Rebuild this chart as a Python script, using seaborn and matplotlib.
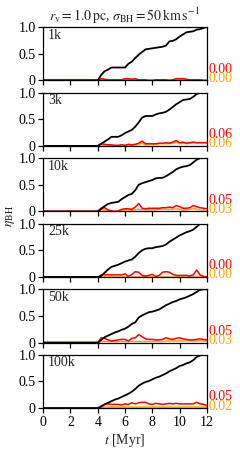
import numpy as np
import pandas as pd
import matplotlib
matplotlib.use("Agg")
import matplotlib.pyplot as plt
import seaborn as sns

# time grid: t=0 plus 4.0 ... 12.0 Myr in 0.25 steps
t_myr = [0.0] + [4.0 + 0.25 * i for i in range(33)]

labels = ["1k", "3k", "10k", "25k", "50k", "100k"]

black_1k = [0.00, 0.10, 0.17, 0.20, 0.24, 0.24, 0.24, 0.24, 0.24, 0.31, 0.35,
            0.42, 0.48, 0.53, 0.58, 0.59, 0.60, 0.61, 0.62, 0.63, 0.65, 0.73,
            0.74, 0.77, 0.82, 0.86, 0.90, 0.91, 0.92, 0.95, 0.96, 0.98, 1.00]
red_1k = [0.00, 0.03, 0.02, 0.01, 0.01, 0.01, 0.01, 0.01, 0.03, 0.03, 0.02,
          0.03, 0.01, 0.01, 0.01, 0.00, 0.00, 0.01, 0.01, 0.01, 0.01, 0.00,
          0.01, 0.03, 0.03, 0.03, 0.02, 0.01, 0.01, 0.01, 0.01, 0.00, 0.00]
orange_1k = [0.00, 0.02, 0.01, 0.00, 0.00, 0.00, 0.00, 0.00, 0.02, 0.02, 0.01,
             0.02, 0.00, 0.00, 0.00, 0.00, 0.00, 0.00, 0.00, 0.00, 0.00, 0.00,
             0.00, 0.02, 0.02, 0.02, 0.01, 0.00, 0.00, 0.00, 0.00, 0.00, 0.00]

black_3k = [0.00, 0.04, 0.08, 0.12, 0.17, 0.17, 0.17, 0.20, 0.24, 0.27, 0.30,
            0.36, 0.44, 0.53, 0.56, 0.56, 0.56, 0.59, 0.61, 0.62, 0.64, 0.68,
            0.73, 0.78, 0.82, 0.86, 0.87, 0.88, 0.92, 0.97, 1.00, 1.00, 1.00]
red_3k = [0.00, 0.04, 0.03, 0.02, 0.02, 0.01, 0.01, 0.02, 0.01, 0.03, 0.02,
          0.03, 0.05, 0.09, 0.04, 0.04, 0.04, 0.04, 0.05, 0.05, 0.06, 0.05,
          0.07, 0.10, 0.06, 0.07, 0.05, 0.06, 0.07, 0.06, 0.06, 0.06, 0.06]
orange_3k = [0.00, 0.02, 0.01, 0.01, 0.01, 0.00, 0.00, 0.01, 0.00, 0.01, 0.01,
             0.02, 0.03, 0.05, 0.02, 0.03, 0.03, 0.03, 0.04, 0.04, 0.04, 0.04,
             0.05, 0.07, 0.04, 0.05, 0.04, 0.05, 0.06, 0.05, 0.06, 0.06, 0.06]

black_10k = [0.00, 0.05, 0.10, 0.14, 0.16, 0.17, 0.18, 0.23, 0.27, 0.31, 0.33,
             0.40, 0.50, 0.53, 0.55, 0.57, 0.59, 0.62, 0.63, 0.63, 0.66, 0.70,
             0.74, 0.79, 0.82, 0.84, 0.85, 0.87, 0.92, 0.97, 1.00, 1.00, 1.00]
red_10k = [0.00, 0.06, 0.07, 0.03, 0.01, 0.00, 0.01, 0.04, 0.05, 0.05, 0.04,
           0.08, 0.15, 0.06, 0.05, 0.06, 0.06, 0.06, 0.06, 0.07, 0.07, 0.08,
           0.07, 0.11, 0.09, 0.06, 0.06, 0.07, 0.11, 0.09, 0.07, 0.06, 0.05]
orange_10k = [0.00, 0.03, 0.03, 0.01, 0.00, 0.00, 0.01, 0.02, 0.03, 0.03, 0.02,
              0.03, 0.04, 0.03, 0.03, 0.03, 0.03, 0.03, 0.04, 0.04, 0.04, 0.04,
              0.04, 0.05, 0.04, 0.03, 0.03, 0.04, 0.05, 0.04, 0.03, 0.03, 0.03]

black_25k = [0.00, 0.02, 0.08, 0.14, 0.19, 0.21, 0.23, 0.26, 0.29, 0.31, 0.33,
             0.38, 0.45, 0.50, 0.53, 0.54, 0.54, 0.56, 0.57, 0.58, 0.61, 0.66,
             0.70, 0.74, 0.78, 0.81, 0.84, 0.86, 0.89, 0.94, 1.00, 1.00, 1.00]
red_25k = [0.00, 0.04, 0.04, 0.04, 0.04, 0.04, 0.04, 0.04, 0.06, 0.01, 0.05,
           0.10, 0.09, 0.03, 0.02, 0.03, 0.05, 0.01, 0.03, 0.09, 0.10, 0.09,
           0.05, 0.03, 0.03, 0.03, 0.03, 0.02, 0.04, 0.13, 0.04, 0.01, 0.00]
orange_25k = [0.00] * 33

black_50k = [0.00, 0.05, 0.10, 0.13, 0.16, 0.19, 0.21, 0.24, 0.26, 0.30, 0.35,
             0.38, 0.47, 0.51, 0.54, 0.57, 0.58, 0.60, 0.62, 0.66, 0.70, 0.73,
             0.76, 0.78, 0.81, 0.83, 0.85, 0.88, 0.91, 0.95, 0.99, 1.00, 1.00]
red_50k = [0.00, 0.09, 0.08, 0.05, 0.03, 0.04, 0.05, 0.06, 0.06, 0.03, 0.08,
           0.09, 0.15, 0.11, 0.07, 0.06, 0.06, 0.05, 0.05, 0.06, 0.09, 0.07,
           0.06, 0.08, 0.09, 0.07, 0.06, 0.05, 0.05, 0.06, 0.07, 0.06, 0.05]
orange_50k = [0.00, 0.02, 0.02, 0.02, 0.02, 0.02, 0.02, 0.02, 0.02, 0.02, 0.02,
              0.02, 0.02, 0.02, 0.02, 0.02, 0.02, 0.02, 0.02, 0.02, 0.03, 0.03,
              0.03, 0.03, 0.03, 0.03, 0.03, 0.03, 0.03, 0.03, 0.03, 0.03, 0.03]

black_100k = [0.00, 0.03, 0.07, 0.10, 0.13, 0.16, 0.18, 0.21, 0.24, 0.27, 0.31,
              0.36, 0.42, 0.46, 0.49, 0.51, 0.54, 0.57, 0.59, 0.62, 0.65, 0.69,
              0.72, 0.75, 0.79, 0.81, 0.84, 0.86, 0.90, 0.96, 0.99, 1.00, 1.00]
red_100k = [0.00, 0.04, 0.07, 0.08, 0.07, 0.07, 0.07, 0.06, 0.08, 0.07, 0.10,
            0.08, 0.10, 0.11, 0.11, 0.08, 0.07, 0.09, 0.08, 0.07, 0.08, 0.09,
            0.08, 0.09, 0.08, 0.08, 0.08, 0.08, 0.08, 0.11, 0.08, 0.07, 0.05]
orange_100k = [0.00, 0.01, 0.02, 0.02, 0.02, 0.02, 0.02, 0.02, 0.02, 0.02, 0.02,
               0.02, 0.02, 0.02, 0.02, 0.02, 0.02, 0.02, 0.02, 0.02, 0.02, 0.02,
               0.02, 0.02, 0.02, 0.02, 0.02, 0.02, 0.02, 0.02, 0.02, 0.02, 0.02]

black_all = [black_1k, black_3k, black_10k, black_25k, black_50k, black_100k]
red_all = [red_1k, red_3k, red_10k, red_25k, red_50k, red_100k]
orange_all = [orange_1k, orange_3k, orange_10k, orange_25k, orange_50k, orange_100k]

red_text = ["0.00", "0.06", "0.05", "0.00", "0.05", "0.05"]
orange_text = ["0.00", "0.06", "0.03", "0.00", "0.03", "0.02"]

sns.set_style("ticks")
plt.rcParams['font.family'] = ['Liberation Serif', 'DejaVu Serif']
plt.rcParams['mathtext.fontset'] = 'stix'
plt.rcParams['font.size'] = 10
plt.rcParams['axes.edgecolor'] = 'black'
plt.rcParams['xtick.color'] = 'black'
plt.rcParams['ytick.color'] = 'black'

fs = 10
fig, axes = plt.subplots(6, 1, figsize=(2.4, 4.5), dpi=100, sharex=True)
fig.subplots_adjust(left=0.18, right=0.862, top=0.94, bottom=0.093, hspace=0.23)

for i, ax in enumerate(axes):
    df = pd.DataFrame({
        't': t_myr,
        'black': [0.0] + black_all[i],
        'red': [0.0] + red_all[i],
        'orange': [0.0] + orange_all[i],
    })
    sns.lineplot(data=df, x='t', y='orange', ax=ax, color='orange', lw=1.1)
    sns.lineplot(data=df, x='t', y='red', ax=ax, color='red', lw=1.1)
    sns.lineplot(data=df, x='t', y='black', ax=ax, color='black', lw=1.3)
    ax.set_xlim(0, 12)
    ax.set_ylim(0, 1)
    ax.set_yticks([0, 0.5, 1.0])
    ax.set_yticklabels(["0", "0.5", "1.0"])
    ax.set_xticks([0, 2, 4, 6, 8, 10, 12])
    ax.set_xlabel("")
    ax.set_ylabel("")
    for s in ax.spines.values():
        s.set_linewidth(0.9)
    ax.tick_params(direction='out', length=3.5, width=0.9, labelsize=fs, pad=2)
    ax.text(0.03, 0.97, labels[i], transform=ax.transAxes, ha='left', va='top', fontsize=fs)
    ax.text(1.01, 0.21, red_text[i], transform=ax.transAxes, ha='left', va='center',
            color='red', fontsize=fs)
    ax.text(1.01, 0.04, orange_text[i], transform=ax.transAxes, ha='left', va='center',
            color='orange', fontsize=fs)

axes[-1].set_xlabel(r"$t$ [Myr]", fontsize=fs, labelpad=2)
axes[0].set_title(r"$r_\mathrm{v}=1.0\,\mathrm{pc}$, $\sigma_\mathrm{BH}=50\,\mathrm{km\,s^{-1}}$",
                  fontsize=fs, pad=4)
fig.text(0.045, 0.52, r"$\eta_\mathrm{BH}$", rotation=90, ha='center', va='center', fontsize=fs)

fig.savefig("out.png", dpi=100)
